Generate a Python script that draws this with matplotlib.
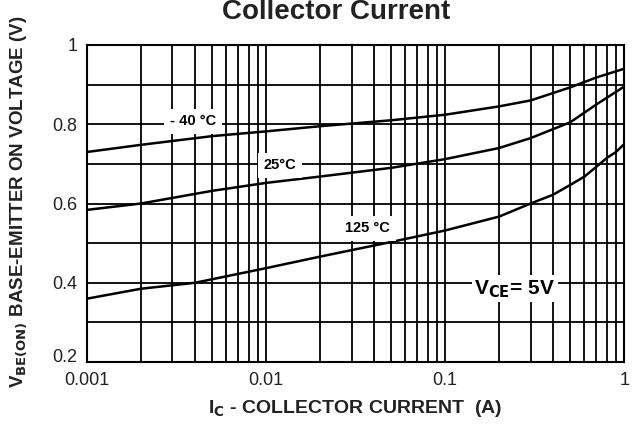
import matplotlib.pyplot as plt
import matplotlib.transforms as mtransforms
import numpy as np
from matplotlib.ticker import FixedLocator, NullFormatter

plt.rcParams['font.family'] = ['Liberation Sans', 'DejaVu Sans']

# collector current (A)
ic_m40 = [0.001, 0.002, 0.005, 0.01, 0.02, 0.05, 0.1, 0.2, 0.3, 0.5, 0.7, 1.0]
vbe_m40 = [0.73, 0.748, 0.77, 0.782, 0.795, 0.81, 0.824, 0.845, 0.86, 0.893, 0.918, 0.94]

ic_25 = [0.001, 0.002, 0.005, 0.01, 0.02, 0.05, 0.1, 0.2, 0.3, 0.5, 0.7, 1.0]
vbe_25 = [0.584, 0.60, 0.632, 0.652, 0.668, 0.69, 0.712, 0.74, 0.765, 0.805, 0.85, 0.895]

ic_125 = [0.001, 0.002, 0.004, 0.01, 0.02, 0.05, 0.1, 0.2, 0.3, 0.4, 0.5, 0.6, 0.7, 0.8, 0.9, 1.0]
vbe_125 = [0.36, 0.385, 0.40, 0.437, 0.466, 0.503, 0.532, 0.567, 0.60, 0.622, 0.647, 0.668, 0.693, 0.715, 0.73, 0.75]

x_ticks = [0.001, 0.01, 0.1, 1]
x_ticklabels = ['0.001', '0.01', '0.1', '1']
y_ticks = [0.2, 0.4, 0.6, 0.8, 1.0]
y_ticklabels = ['0.2', '0.4', '0.6', '0.8', '1']

fig = plt.figure(figsize=(6.35, 4.24), dpi=100)
ax = fig.add_axes([0.137, 0.146, 0.846, 0.748])

# grid: every 1-9 per decade vertically, every 0.1 V horizontally
minor_x = [m * 10.0 ** e for e in (-3, -2, -1) for m in range(1, 10)] + [1.0]
for xv in minor_x:
    ax.axvline(xv, color='black', lw=1.3, zorder=1)
for yv in np.arange(0.2, 1.01, 0.1):
    ax.axhline(yv, color='black', lw=1.3, zorder=1)

for ic, vbe in [(ic_m40, vbe_m40), (ic_25, vbe_25), (ic_125, vbe_125)]:
    ax.plot(ic, vbe, color='black', lw=1.8, zorder=3)

ax.set_xscale('log')
ax.set_xlim(0.001, 1)
ax.set_ylim(0.2, 1.0)
ax.xaxis.set_major_locator(FixedLocator(x_ticks))
ax.xaxis.set_minor_formatter(NullFormatter())
ax.set_xticks(x_ticks)
ax.set_xticklabels(x_ticklabels)
ax.set_yticks(y_ticks)
ax.set_yticklabels(y_ticklabels)
ax.tick_params(which='both', length=0, labelsize=13, colors='#222222')
ax.tick_params(axis='x', pad=7)
ax.tick_params(axis='y', pad=7)
for sp in ax.spines.values():
    sp.set_linewidth(1.5)

# the bottom "0.2" sits a little higher, just above "0.001"
lbl = ax.get_yticklabels()[0]
lbl.set_transform(lbl.get_transform() + mtransforms.ScaledTranslation(0, 5 / 72, fig.dpi_scale_trans))

box = dict(facecolor='white', edgecolor='none', pad=4)
ax.text(0.0039, 0.808, '- 40 °C', fontsize=10.5, fontweight='bold', ha='center', va='center', bbox=box, zorder=4)
ax.text(0.012, 0.697, '25°C', fontsize=10.5, fontweight='bold', ha='center', va='center', bbox=box, zorder=4)
ax.text(0.037, 0.538, '125 °C', fontsize=10.5, fontweight='bold', ha='center', va='center', bbox=box, zorder=4)
ax.text(0.245, 0.385, r'V$_{\mathbf{CE}}$= 5V', fontsize=15, fontweight='bold', ha='center', va='center',
        bbox=dict(facecolor='white', edgecolor='none', pad=2), zorder=4)

fig.text(0.529, 0.972, 'Collector Current', fontsize=20, fontweight='bold', ha='center', va='center', color='#222222')
fig.text(0.559, 0.036, r'I$_\mathbf{C}$ - COLLECTOR CURRENT  (A)', fontsize=14, fontweight='bold',
         ha='center', va='center', color='#222222')
fig.text(0.03, 0.525, r'V$_{\mathbf{BE(ON)}}$ BASE-EMITTER ON VOLTAGE (V)', fontsize=13.5, fontweight='bold',
         ha='center', va='center', rotation=90, color='#222222')

fig.savefig('out.png', dpi=100)
